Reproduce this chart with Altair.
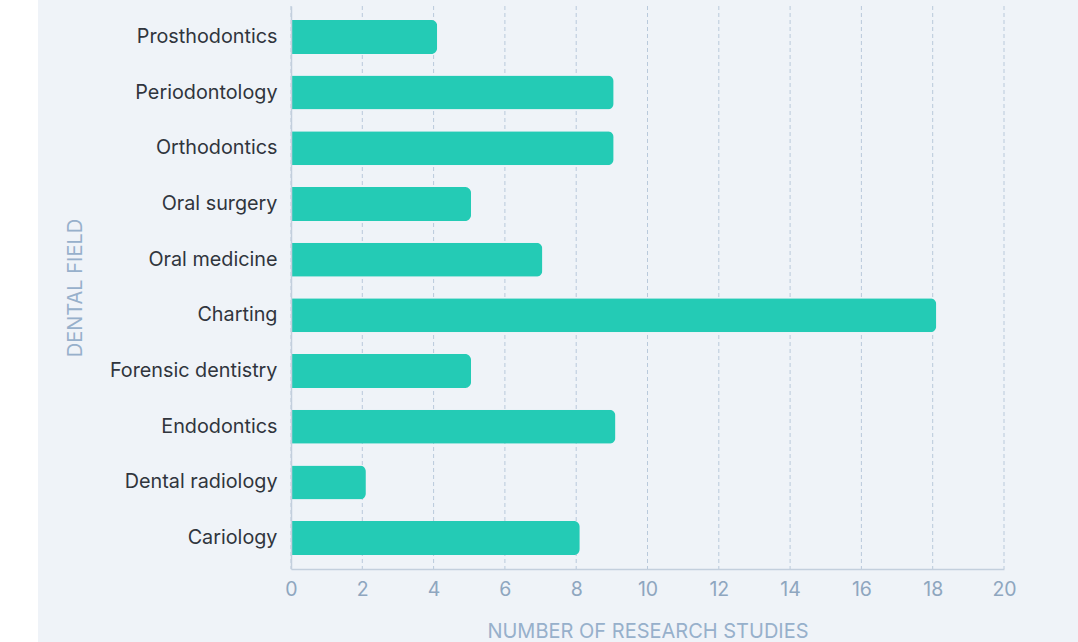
import altair as alt
import pandas as pd

fields = ["Prosthodontics", "Periodontology", "Orthodontics", "Oral surgery",
          "Oral medicine", "Charting", "Forensic dentistry", "Endodontics",
          "Dental radiology", "Cariology"]
studies = [4.1, 9.05, 9.05, 5.05, 7.05, 18.1, 5.05, 9.1, 2.1, 8.1]
grid_ticks = [0, 2, 4, 6, 8, 10, 12, 14, 16, 18, 20]

df = pd.DataFrame({"field": fields, "studies": studies})
grid_df = pd.DataFrame({"g": grid_ticks})

W, H = 713, 563
PL, PT = 291, 6

bg = alt.Chart(pd.DataFrame({"a": [0]})).mark_rect(color="#eff3f8").encode(
    x=alt.value(38 - PL), x2=alt.value(1078 - PL),
    y=alt.value(-PT), y2=alt.value(642 - PT)
)

grid = alt.Chart(grid_df).mark_rule(color="#b9c9db", strokeDash=[4, 3], strokeWidth=1).encode(
    x=alt.X("g:Q", scale=alt.Scale(domain=[0, 20]))
)

bars = alt.Chart(df).mark_bar(color="#24cbb5", cornerRadiusEnd=6).encode(
    y=alt.Y("field:N", sort=fields,
            scale=alt.Scale(paddingInner=0.39, paddingOuter=0.25),
            axis=alt.Axis(title="DENTAL FIELD", labelFont="Inter", labelFontSize=19.8,
                          labelColor="#30353d", labelPadding=14, ticks=False, zindex=1,
                          domainColor="#c3cfdd", domainWidth=1.5,
                          titleFont="Inter", titleFontSize=20, titleFontWeight="normal",
                          titleColor="#97b0cb", titleX=75 - PL, titleY=H / 2,
                          titleAngle=-90, titleAlign="center", titleBaseline="middle")),
    x=alt.X("studies:Q", scale=alt.Scale(domain=[0, 20]),
            axis=alt.Axis(title="NUMBER OF RESEARCH STUDIES", values=grid_ticks,
                          grid=False, ticks=False, zindex=1, labelFont="Inter", labelFontSize=19.5,
                          labelColor="#8ea6bf", labelPadding=11, labelFlush=False,
                          domainColor="#c3cfdd", domainWidth=1.5,
                          titleFont="Inter", titleFontSize=20, titleFontWeight="normal",
                          titleColor="#97b0cb", titleX=W / 2, titleY=62,
                          titleAlign="center", titleBaseline="middle"))
)

chart = alt.layer(bg, grid, bars).properties(
    width=W, height=H,
    autosize=alt.AutoSizeParams(type="none"),
    padding={"left": PL, "top": PT, "right": 1078 - PL - W, "bottom": 642 - PT - H},
    background="white"
).configure_view(stroke=None)

chart.save("out.html", embed_options={"renderer": "svg", "actions": False})
